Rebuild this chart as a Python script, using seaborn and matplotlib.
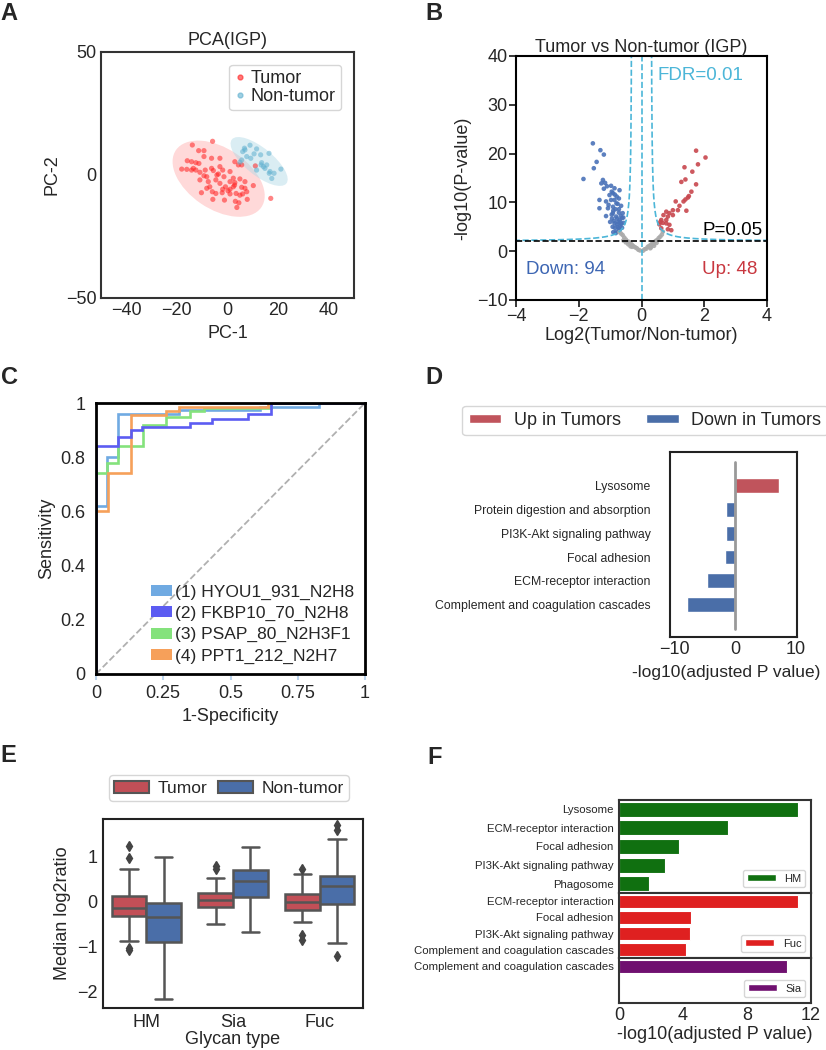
import numpy as np
import pandas as pd
import matplotlib.pyplot as plt
import seaborn as sns
from matplotlib.patches import Ellipse, Patch
from matplotlib.lines import Line2D

# ---------------- A: PCA ----------------
tumor_pts = [(-13.9, 12.2), (-5.9, 13.7), (-11.4, 9.9), (-9.3, 9.9), (-15.9, 5.8), (-14.2, 5.4),
             (-12.5, 5.0), (-11.3, 4.7), (-18.1, 2.4), (-16.1, 2.3), (-14.2, 2.0), (-13.5, 2.7),
             (-9.3, 7.5), (-6.3, 6.8), (-3.0, 6.8), (2.9, 5.4), (4.3, 4.1), (5.6, 4.1), (-10.9, 1.1),
             (-9.3, -0.3), (-8.2, -0.7), (-6.3, 2.7), (-5.6, 1.8), (-3.6, 0.4), (-1.9, 2.0), (1.0, 1.4),
             (2.3, -1.3), (4.9, -1.6), (-7.6, -2.7), (-4.6, -2.0), (-3.0, -3.4), (-0.8, -4.8), (1.0, -5.8),
             (0.2, -6.4), (2.3, -4.8), (5.6, -5.0), (10.2, -4.3), (-10.3, -7.2), (-8.2, -5.4), (-6.0, -6.8),
             (-4.6, -7.5), (-2.1, -7.2), (1.0, -7.7), (3.4, -7.5), (6.0, -7.7), (7.8, -9.9), (3.1, -10.7),
             (-1.2, -10.2), (-5.8, -9.9), (3.7, -13.2), (1.0, -2.7), (2.9, -3.1), (6.9, -2.7), (6.9, -5.4),
             (7.6, -6.8), (4.9, -8.2), (-4.2, 0.0), (-7.0, -4.8), (-1.9, -5.8), (4.5, -11.3), (-12.5, 2.0),
             (-10.9, -2.0), (-8.8, 2.0), (-3.0, 3.4), (-1.4, -0.7), (2.8, -4.1), (17.1, -9.5), (11.0, 3.7)]
normal_pts = [(6.9, 10.2), (8.9, 12.1), (11.5, 10.6), (6.0, 9.5), (9.2, 6.8), (13.1, 8.2), (16.4, 8.8),
              (13.5, 5.0), (14.8, 2.7), (16.5, 0.7), (18.4, 0.7), (21.1, 2.4), (17.5, -1.4), (11.5, 2.0),
              (15.5, 4.1), (5.6, 6.1), (7.6, 7.5), (10.5, 8.6), (14.2, 3.4), (16.8, 1.4), (4.9, 5.2),
              (6.7, 10.9), (13.3, 4.1)]
# confidence ellipses: centre x, centre y, width, height, angle
tumor_ellipse = [-3.5, -1.5, 41, 24.6, -35]
normal_ellipse = [12.5, 5.5, 28, 11, -40]

# ---------------- B: volcano ----------------
down_pts = [(-1.55, 22.1), (-1.31, 20.7), (-1.20, 19.8), (-1.43, 18.3), (-1.52, 17.0), (-1.85, 14.8),
            (-1.23, 14.6), (-1.16, 14.0), (-0.97, 13.4), (-0.86, 12.9), (-0.70, 12.5), (-1.34, 10.5),
            (-1.13, 10.2), (-0.91, 11.9), (-0.79, 11.2), (-1.34, 8.8), (-1.07, 8.8), (-1.13, 7.2),
            (-0.91, 9.1), (-0.76, 9.7), (-0.65, 9.3), (-0.91, 7.8), (-0.81, 7.1), (-0.70, 6.4),
            (-0.60, 7.8), (-0.86, 5.7), (-0.76, 5.0), (-0.65, 5.6), (-0.81, 4.0), (-0.70, 4.3),
            (-0.57, 5.8), (-0.97, 10.5), (-1.02, 11.5), (-0.86, 10.5), (-0.72, 7.9), (-0.83, 8.6),
            (-0.94, 6.7), (-0.62, 6.8), (-0.75, 6.0), (-0.88, 6.2), (-0.68, 5.2), (-0.78, 5.5),
            (-0.92, 5.0), (-0.62, 4.8), (-0.73, 4.6), (-0.85, 4.8), (-0.95, 7.5), (-1.05, 9.5),
            (-1.20, 12.8), (-0.80, 9.8), (-0.90, 8.3), (-1.00, 6.0), (-0.66, 7.2), (-0.72, 8.6),
            (-1.10, 13.3), (-0.82, 3.7), (-0.90, 3.9), (-0.78, 6.7), (-0.68, 6.0), (-0.58, 6.9),
            (-0.85, 11.6), (-0.72, 10.8), (-1.28, 13.9), (-0.95, 12.2)]
up_pts = [(1.74, 20.6), (2.04, 19.2), (1.37, 17.2), (1.80, 17.8), (1.62, 16.3), (1.27, 14.2),
          (1.40, 14.7), (1.74, 13.7), (1.59, 12.2), (1.51, 11.3), (1.40, 10.6), (1.34, 10.2),
          (1.48, 11.0), (1.09, 10.2), (1.21, 9.3), (1.43, 8.3), (1.00, 8.4), (0.89, 7.8), (0.79, 8.1),
          (0.70, 7.4), (0.84, 7.1), (0.63, 6.4), (0.68, 5.8), (0.79, 5.7), (0.57, 5.5), (0.89, 5.4),
          (0.63, 4.7), (0.84, 4.5), (0.95, 4.3), (0.79, 6.4), (1.00, 7.4), (1.16, 8.4), (0.60, 6.0)]
ns_pts = [(-0.1, 0.3), (0.1, 0.4), (-0.2, 0.8), (0.2, 0.9), (-0.3, 1.3), (0.3, 1.3), (-0.35, 1.6),
          (0.4, 1.5), (-0.45, 2.0), (0.45, 2.1), (-0.5, 2.4), (0.5, 2.3), (-0.55, 2.8), (0.6, 3.0),
          (-0.6, 3.3), (0.55, 2.7), (-0.25, 1.0), (0.25, 1.1), (-0.4, 1.9), (0.35, 1.7), (-0.15, 0.6),
          (0.15, 0.5), (-0.65, 3.6), (0.65, 3.4), (-0.5, 1.8), (0.4, 1.1), (-0.35, 1.0), (0.3, 0.8),
          (-0.42, 1.4), (0.48, 1.7), (-0.58, 2.2), (0.68, 4.0), (-0.7, 3.9), (0.05, 0.1), (-0.05, 0.15),
          (0.28, 0.6), (-0.3, 0.9)]
# FDR threshold curve y = y0 + c / (|x| - x0), and p-value cut
fdr_x0, fdr_y0, fdr_c = 0.3, 2.0, 0.82
p_cut = 2.0

# ---------------- C: ROC ----------------
roc_labels = ['(1) HYOU1_931_N2H8', '(2) FKBP10_70_N2H8', '(3) PSAP_80_N2H3F1', '(4) PPT1_212_N2H7']
hyou1_fpr = [0, 0, 0.04, 0.04, 0.08, 0.08, 0.31, 0.31, 0.61, 0.61, 0.83, 0.83, 1]
hyou1_tpr = [0, 0.62, 0.62, 0.8, 0.8, 0.96, 0.96, 0.975, 0.975, 0.985, 0.985, 1, 1]
fkbp10_fpr = [0, 0, 0.08, 0.08, 0.13, 0.13, 0.17, 0.17, 0.35, 0.35, 0.43, 0.43, 0.565, 0.565, 0.65, 0.65, 1]
fkbp10_tpr = [0, 0.84, 0.84, 0.875, 0.875, 0.9, 0.9, 0.91, 0.91, 0.925, 0.925, 0.94, 0.94, 0.96, 0.96, 1, 1]
psap_fpr = [0, 0, 0.04, 0.04, 0.08, 0.08, 0.175, 0.175, 0.26, 0.26, 0.35, 0.35, 0.4, 0.4, 0.65, 0.65, 1]
psap_tpr = [0, 0.74, 0.74, 0.78, 0.78, 0.84, 0.84, 0.92, 0.92, 0.95, 0.95, 0.97, 0.97, 0.98, 0.98, 1, 1]
ppt1_fpr = [0, 0, 0.045, 0.045, 0.13, 0.13, 0.26, 0.26, 0.31, 0.31, 0.64, 0.64, 1]
ppt1_tpr = [0, 0.6, 0.6, 0.74, 0.74, 0.955, 0.955, 0.97, 0.97, 0.985, 0.985, 1, 1]

# ---------------- D: pathways up/down ----------------
d_terms = ['Lysosome', 'Protein digestion and absorption', 'PI3K-Akt signaling pathway',
           'Focal adhesion', 'ECM-receptor interaction', 'Complement and coagulation cascades']
d_values = [7.2, -1.5, -1.55, -1.75, -4.6, -8.0]
d_dirs = ['Up in Tumors', 'Down in Tumors', 'Down in Tumors', 'Down in Tumors', 'Down in Tumors', 'Down in Tumors']

# ---------------- E: boxplots ----------------
glycan_types = ['HM', 'Sia', 'Fuc']
tumor_lo = [-0.87, -0.50, -0.46]
tumor_q1 = [-0.33, -0.12, -0.18]
tumor_med = [-0.14, 0.04, -0.01]
tumor_q3 = [0.12, 0.19, 0.17]
tumor_hi = [0.73, 0.54, 0.63]
tumor_out = [[-1.03, -1.08, 0.98, 1.24], [0.72, 0.80], [-0.75, -0.85, 0.73]]
normal_lo = [-2.18, -0.69, -0.92]
normal_q1 = [-0.90, 0.10, -0.06]
normal_med = [-0.35, 0.47, 0.36]
normal_q3 = [-0.03, 0.70, 0.57]
normal_hi = [0.99, 1.22, 1.40]
normal_out = [[], [], [-1.21, 1.61, 1.72]]

# ---------------- F: glycan-type pathways ----------------
hm_terms = ['Lysosome', 'ECM-receptor interaction', 'Focal adhesion', 'PI3K-Akt signaling pathway', 'Phagosome']
hm_vals = [11.2, 6.8, 3.75, 2.9, 1.9]
fuc_terms = ['ECM-receptor interaction', 'Focal adhesion', 'PI3K-Akt signaling pathway',
             'Complement and coagulation cascades']
fuc_vals = [11.2, 4.5, 4.45, 4.2]
sia_terms = ['Complement and coagulation cascades']
sia_vals = [10.5]

sns.set_style('white')
plt.rcParams['font.family'] = ['Liberation Sans', 'DejaVu Sans']
plt.rcParams['axes.unicode_minus'] = True

W, H = 826, 1050
fig = plt.figure(figsize=(W / 100, H / 100), dpi=100)


def add_ax(l, t, r, b):
    return fig.add_axes([l / W, 1 - b / H, (r - l) / W, (b - t) / H])


def frame(ax, color, lw):
    for s in ax.spines.values():
        s.set_visible(True)
        s.set_color(color)
        s.set_linewidth(lw)


for letter, x, y in [('A', 9, 13), ('B', 434, 13), ('C', 9, 378), ('D', 434, 378), ('E', 8, 756), ('F', 435, 757)]:
    fig.text(x / W, 1 - y / H, letter, fontsize=17, fontweight='bold', ha='center', va='center')

# ---- A ----
axA = add_ax(101, 52, 354, 298)
for ell, col, a in [(tumor_ellipse, 'red', 0.15), (normal_ellipse, 'lightblue', 0.45)]:
    axA.add_patch(Ellipse((ell[0], ell[1]), ell[2], ell[3], angle=ell[4], facecolor=col, alpha=a, edgecolor='none'))
pca = pd.DataFrame(tumor_pts + normal_pts, columns=['PC-1', 'PC-2'])
pca['group'] = ['Tumor'] * len(tumor_pts) + ['Non-tumor'] * len(normal_pts)
pca_colors = {'Tumor': '#ff2020', 'Non-tumor': '#5fb0cf'}
sns.scatterplot(data=pca, x='PC-1', y='PC-2', hue='group', palette=pca_colors, s=14, alpha=0.55,
                linewidth=0, legend=False, ax=axA)
axA.set_xlim(-50, 50)
axA.set_ylim(-50, 50)
axA.set_xticks([-40, -20, 0, 20, 40])
axA.set_yticks([-50, 0, 50])
axA.tick_params(labelsize=13, length=0, pad=3)
axA.set_title('PCA(IGP)', fontsize=13, pad=5)
axA.set_xlabel('PC-1', fontsize=13)
axA.set_ylabel('PC-2', fontsize=13)
frame(axA, '#333333', 1.5)
axA.legend(handles=[Line2D([], [], ls='', marker='o', ms=3.5, color=pca_colors[g], alpha=0.6, label=g)
                    for g in ['Tumor', 'Non-tumor']],
           loc='upper right', fontsize=13, handlelength=0.6, handletextpad=0.3, borderpad=0.3,
           labelspacing=0.05, frameon=True, edgecolor='#cccccc', bbox_to_anchor=(0.985, 0.985))

# ---- B ----
axB = add_ax(516, 56, 767, 300)
volc = pd.DataFrame(down_pts + up_pts + ns_pts, columns=['lfc', 'nlp'])
volc['grp'] = ['down'] * len(down_pts) + ['up'] * len(up_pts) + ['ns'] * len(ns_pts)
sns.scatterplot(data=volc, x='lfc', y='nlp', hue='grp', palette={'down': '#4a72b8', 'up': '#c8474e', 'ns': '#aaaaaa'},
                s=11, linewidth=0, alpha=0.9, legend=False, ax=axB)
fdr_col = '#4cb6d8'
xs = np.linspace(fdr_x0 + 0.001, 4, 600)
ys = fdr_y0 + fdr_c / (xs - fdr_x0)
axB.plot(xs, ys, ls='--', color=fdr_col, lw=1.2)
axB.plot(-xs, ys, ls='--', color=fdr_col, lw=1.2)
axB.axvline(0, ls='--', color=fdr_col, lw=1.2)
axB.axhline(p_cut, ls='--', color='black', lw=1.2)
axB.text(0.52, 36, 'FDR=0.01', color=fdr_col, fontsize=13.5, va='center')
axB.text(3.85, 4.3, 'P=0.05', color='black', fontsize=13.5, ha='right', va='center')
axB.text(-3.68, -3.8, 'Down: 94', color='#3d66b3', fontsize=13.5, va='center')
axB.text(3.7, -3.8, 'Up: 48', color='#c8373f', fontsize=13.5, ha='right', va='center')
axB.set_xlim(-4, 4)
axB.set_ylim(-10, 40)
axB.set_xticks([-4, -2, 0, 2, 4])
axB.set_yticks([-10, 0, 10, 20, 30, 40])
axB.tick_params(labelsize=13, direction='out', length=5, width=1.3, left=True, bottom=True, pad=1)
axB.set_title('Tumor vs Non-tumor (IGP)', fontsize=13, pad=3)
axB.set_xlabel('Log2(Tumor/Non-tumor)', fontsize=13, labelpad=1)
axB.set_ylabel('-log10(P-value)', fontsize=13)
frame(axB, 'black', 1.5)

# ---- C ----
axC = add_ax(96, 403, 365, 674)
roc_colors = ['#70aae2', '#5c5cf2', '#84e27c', '#f6a05a']
roc_data = [(hyou1_fpr, hyou1_tpr), (fkbp10_fpr, fkbp10_tpr), (psap_fpr, psap_tpr), (ppt1_fpr, ppt1_tpr)]
axC.plot([0, 1], [0, 1], ls='--', color='#b0b0b0', lw=1.3)
for i in [0, 2, 3, 1]:
    axC.plot(roc_data[i][0], roc_data[i][1], color=roc_colors[i], lw=1.9, solid_joinstyle='miter')
axC.set_xlim(0, 1)
axC.set_ylim(0, 1)
axC.set_xticks([0, 0.25, 0.5, 0.75, 1])
axC.set_xticklabels(['0', '0.25', '0.5', '0.75', '1'])
axC.set_yticks([0, 0.2, 0.4, 0.6, 0.8, 1])
axC.set_yticklabels(['0', '0.2', '0.4', '0.6', '0.8', '1'])
axC.tick_params(labelsize=13, pad=4)
axC.tick_params(axis='x', bottom=True, direction='out', length=4, width=1.5, color='#bcd4ec')
axC.set_xlabel('1-Specificity', fontsize=13)
axC.set_ylabel('Sensitivity', fontsize=13)
frame(axC, 'black', 2)
axC.legend(handles=[Patch(facecolor=c, edgecolor='none', label=l) for c, l in zip(roc_colors, roc_labels)],
           loc='lower right', fontsize=12.5, frameon=False, handlelength=1.2, handleheight=0.6,
           handletextpad=0.2, labelspacing=0.35, borderaxespad=0.2)

# ---- D ----
axD = add_ax(670, 452, 797, 637)
dcol = {'Up in Tumors': '#c0545c', 'Down in Tumors': '#4a6ea8'}
ddf = pd.DataFrame({'term': d_terms, 'val': d_values, 'dir': d_dirs})
sns.barplot(data=ddf, x='val', y='term', hue='dir', hue_order=['Up in Tumors', 'Down in Tumors'], palette=dcol,
            saturation=1, width=0.8, gap=0.22, legend=False, ax=axD)
axD.plot([0, 0], [-1, 6], color='#999999', lw=2)
axD.set_xlim(-10.8, 10.2)
axD.set_ylim(6.35, -1.4)
axD.set_xticks([-10, 0, 10])
axD.tick_params(axis='x', labelsize=13, length=0, pad=3)
axD.tick_params(axis='y', labelsize=8.8, length=0, pad=14)
axD.set_ylabel('')
axD.set_xlabel('-log10(adjusted P value)', fontsize=12.5)
axD.xaxis.set_label_coords(0.44, -0.15)
frame(axD, '#222222', 1.5)
fig.legend(handles=[Patch(facecolor=dcol[k], label=k) for k in ['Up in Tumors', 'Down in Tumors']],
           loc='center', bbox_to_anchor=(645 / W, 1 - 420.5 / H), ncol=2, fontsize=13, handlelength=1.8,
           handleheight=0.45, columnspacing=1.4, handletextpad=0.7, borderpad=0.35, edgecolor='#cccccc')

# ---- E ----
axE = add_ax(103, 819, 363, 1008)
rows = []
for i, g in enumerate(glycan_types):
    for grp, lo, q1, md, q3, hi, out in [('Tumor', tumor_lo, tumor_q1, tumor_med, tumor_q3, tumor_hi, tumor_out),
                                         ('Non-tumor', normal_lo, normal_q1, normal_med, normal_q3, normal_hi, normal_out)]:
        # sample values reproducing the read quartiles, whiskers and outliers
        vals = [lo[i]] + [q1[i]] * 10 + [md[i]] * 10 + [q3[i]] * 10 + [hi[i]] + out[i]
        rows += [(g, grp, v) for v in vals]
edf = pd.DataFrame(rows, columns=['Glycan type', 'group', 'ratio'])
ecol = {'Tumor': '#c24f57', 'Non-tumor': '#4a6ea8'}
sns.boxplot(data=edf, x='Glycan type', y='ratio', hue='group', order=glycan_types, palette=ecol, saturation=1,
            linecolor='#555555', linewidth=1.8, width=0.8, fliersize=5,
            flierprops=dict(marker='d', markerfacecolor='#444444', markeredgecolor='#444444'),
            legend=False, ax=axE)
axE.set_ylim(-2.38, 1.85)
axE.set_yticks([-2, -1, 0, 1])
axE.tick_params(labelsize=13, length=0, pad=4)
axE.set_xlabel('Glycan type', fontsize=13, labelpad=0)
axE.set_ylabel('Median log2ratio', fontsize=13)
frame(axE, '#222222', 1.5)
axE.legend(handles=[Patch(facecolor=ecol[k], edgecolor='#555555', lw=1.5, label=k) for k in ['Tumor', 'Non-tumor']],
           loc='lower center', bbox_to_anchor=(0.485, 1.05), ncol=2, fontsize=12.5, handlelength=2,
           handleheight=0.7, handletextpad=0.5, columnspacing=0.6, borderpad=0.3, edgecolor='#cccccc')

# ---- F ----
f_axes = [add_ax(619, 800, 811, 893), add_ax(619, 893, 811, 958), add_ax(619, 958, 811, 1003)]
f_sets = [(hm_terms, hm_vals, 'green', 'HM'), (fuc_terms, fuc_vals, 'red', 'Fuc'), (sia_terms, sia_vals, 'purple', 'Sia')]
for ax, (terms, vals, col, name) in zip(f_axes, f_sets):
    sns.barplot(x=vals, y=terms, color=col, orient='h', width=0.8, edgecolor='white', linewidth=0.8, ax=ax)
    ax.set_xlim(0, 12)
    ax.set_xticks([0, 4, 8, 12])
    ax.tick_params(axis='y', labelsize=8.2, length=0, pad=4)
    ax.tick_params(axis='x', labelsize=13, length=0, pad=3)
    frame(ax, '#333333', 1.5)
    fc = ax.patches[0].get_facecolor()
    ax.legend(handles=[Patch(facecolor=fc, label=name)], loc='lower right', fontsize=8, handlelength=2.6,
              handleheight=0.5, borderpad=0.35, edgecolor='#cccccc')
for ax in f_axes[:2]:
    ax.set_xticklabels([])
f_axes[0].set_ylim(4.5, -0.5)
f_axes[1].set_ylim(3.5, -0.5)
f_axes[2].set_ylim(2.15, -0.5)
f_axes[2].set_xlabel('-log10(adjusted P value)', fontsize=13, labelpad=1)

fig.savefig('out.png', dpi=100)
